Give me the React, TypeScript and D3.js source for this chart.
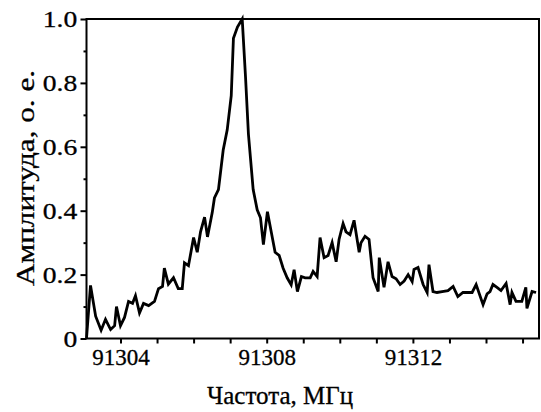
import React, { useEffect, useRef } from "react";
import * as d3 from "d3";

// frequency, MHz
const freq = [
  91303.07, 91303.18, 91303.32, 91303.47, 91303.59, 91303.73, 91303.84, 91303.89,
  91304.0, 91304.11, 91304.22, 91304.33, 91304.41, 91304.52, 91304.63, 91304.77,
  91304.93, 91305.04, 91305.15, 91305.2, 91305.31, 91305.45, 91305.58, 91305.69,
  91305.75, 91305.86, 91306.0, 91306.1, 91306.19, 91306.3, 91306.38, 91306.51,
  91306.57, 91306.68, 91306.81, 91306.92, 91307.03, 91307.09, 91307.2, 91307.33,
  91307.42, 91307.5, 91307.63, 91307.74, 91307.83, 91307.91, 91308.02, 91308.13,
  91308.23, 91308.34, 91308.45, 91308.56, 91308.67, 91308.75, 91308.84, 91308.95,
  91309.05, 91309.19, 91309.27, 91309.38, 91309.46, 91309.57, 91309.68, 91309.79,
  91309.9, 91309.98, 91310.09, 91310.17, 91310.28, 91310.39, 91310.53, 91310.58,
  91310.69, 91310.8, 91310.91, 91311.05, 91311.08, 91311.21, 91311.32, 91311.43,
  91311.54, 91311.65, 91311.76, 91311.87, 91311.98, 91312.03, 91312.14, 91312.28,
  91312.39, 91312.44, 91312.55, 91312.66, 91312.8, 91312.96, 91313.1, 91313.23,
  91313.37, 91313.62, 91313.73, 91313.92, 91314.03, 91314.11, 91314.19, 91314.3,
  91314.41, 91314.55, 91314.66, 91314.71, 91314.82, 91314.98, 91315.09, 91315.12,
  91315.26, 91315.37,
];

// amplitude, a.u.
const amp = [
  0.0, 0.166, 0.07, 0.026, 0.06, 0.028, 0.04, 0.1,
  0.04, 0.066, 0.116, 0.11, 0.134, 0.08, 0.11, 0.103,
  0.116, 0.156, 0.163, 0.22, 0.17, 0.19, 0.156, 0.156,
  0.237, 0.228, 0.316, 0.27, 0.334, 0.38, 0.318, 0.394,
  0.44, 0.466, 0.59, 0.653, 0.76, 0.94, 0.975, 1.0,
  0.82, 0.64, 0.466, 0.403, 0.378, 0.294, 0.397, 0.33,
  0.27, 0.26, 0.22, 0.19, 0.168, 0.215, 0.147, 0.194,
  0.19, 0.19, 0.21, 0.194, 0.316, 0.253, 0.26, 0.3,
  0.24, 0.31, 0.36, 0.334, 0.325, 0.37, 0.27, 0.3,
  0.32, 0.31, 0.19, 0.147, 0.253, 0.16, 0.24, 0.194,
  0.187, 0.169, 0.18, 0.2, 0.178, 0.216, 0.222, 0.169,
  0.144, 0.231, 0.147, 0.144, 0.147, 0.15, 0.163, 0.131,
  0.144, 0.144, 0.169, 0.106, 0.14, 0.147, 0.169, 0.16,
  0.15, 0.172, 0.106, 0.144, 0.116, 0.116, 0.16, 0.094,
  0.147, 0.144,
];

const xTickLabels = [91304, 91308, 91312];
const yTickLabels = [0, 0.2, 0.4, 0.6, 0.8, 1.0];

const FONT = "Liberation Serif";

const App = () => {
  const ref = useRef<SVGSVGElement>(null);

  useEffect(() => {
    const svg = d3.select(ref.current);
    svg.selectAll("*").remove();

    const left = 86.5, right = 539, top = 19, bottom = 338.5;

    const x = d3.scaleLinear().domain([91303.07, 91315.45]).range([left, right]);
    const y = d3.scaleLinear().domain([0, 1]).range([bottom, top]);

    // frame
    svg.append("rect")
      .attr("x", left).attr("y", top)
      .attr("width", right - left).attr("height", bottom - top)
      .attr("fill", "none").attr("stroke", "#000").attr("stroke-width", 2);

    // x axis, a tick every MHz, labels every 4
    const xAxis = d3.axisBottom(x)
      .tickValues(d3.range(91304, 91316, 1))
      .tickSize(5)
      .tickFormat((d) => (xTickLabels.includes(+d) ? String(d) : ""));
    const gx = svg.append("g").attr("transform", `translate(0,${bottom})`).call(xAxis);
    gx.attr("font-family", FONT).attr("font-size", 23);
    gx.select(".domain").remove();
    gx.selectAll("line").attr("stroke", "#000").attr("stroke-width", 2);
    gx.selectAll("text")
      .style("font-family", FONT).style("font-size", "23px").attr("fill", "#000")
      .attr("stroke", "#000").attr("stroke-width", 0.3)
      .attr("y", 10).attr("dy", "0.71em");

    // y axis minor
    const gyMinor = svg.append("g").attr("transform", `translate(${left},0)`)
      .call(d3.axisLeft(y).tickValues(d3.range(0.1, 1, 0.2)).tickSize(3).tickFormat(() => ""));
    gyMinor.select(".domain").remove();
    gyMinor.selectAll("line").attr("stroke", "#000").attr("stroke-width", 2);

    // y axis major
    const gy = svg.append("g").attr("transform", `translate(${left},0)`)
      .call(d3.axisLeft(y).tickValues(yTickLabels).tickSize(6)
        .tickFormat((d) => (+d === 0 ? "0" : d3.format(".1f")(+d))));
    gy.attr("font-family", FONT).attr("font-size", 24);
    gy.select(".domain").remove();
    gy.selectAll("line").attr("stroke", "#000").attr("stroke-width", 2);
    gy.selectAll("text")
      .style("font-family", FONT).style("font-size", "24px").attr("fill", "#000")
      .attr("stroke", "#000").attr("stroke-width", 0.3)
      .attr("transform", "scale(1.15,1)")
      .attr("x", -8).attr("dy", "0.33em");

    // data line
    const line = d3.line<number>()
      .x((_, i) => x(freq[i]))
      .y((d) => y(d));
    svg.append("path")
      .datum(amp)
      .attr("fill", "none")
      .attr("stroke", "#000")
      .attr("stroke-width", 2.8)
      .attr("stroke-linejoin", "miter")
      .attr("d", line);

    // titles
    svg.append("text")
      .attr("x", 280).attr("y", 404)
      .attr("text-anchor", "middle")
      .attr("stroke", "#000").attr("stroke-width", 0.3)
      .style("font-family", FONT).style("font-size", "25px")
      .text("Частота, МГц");

    svg.append("text")
      .attr("transform", `translate(34,178) rotate(-90) scale(1.2,1)`)
      .attr("text-anchor", "middle")
      .attr("stroke", "#000").attr("stroke-width", 0.3)
      .style("font-family", FONT).style("font-size", "26px")
      .text("Амплитуда, о. е.");
  }, []);

  return (
    <svg
      ref={ref}
      width={541}
      height={412}
      style={{ position: "absolute", left: 0, top: 0, background: "#fff" }}
    />
  );
};

export default App;
